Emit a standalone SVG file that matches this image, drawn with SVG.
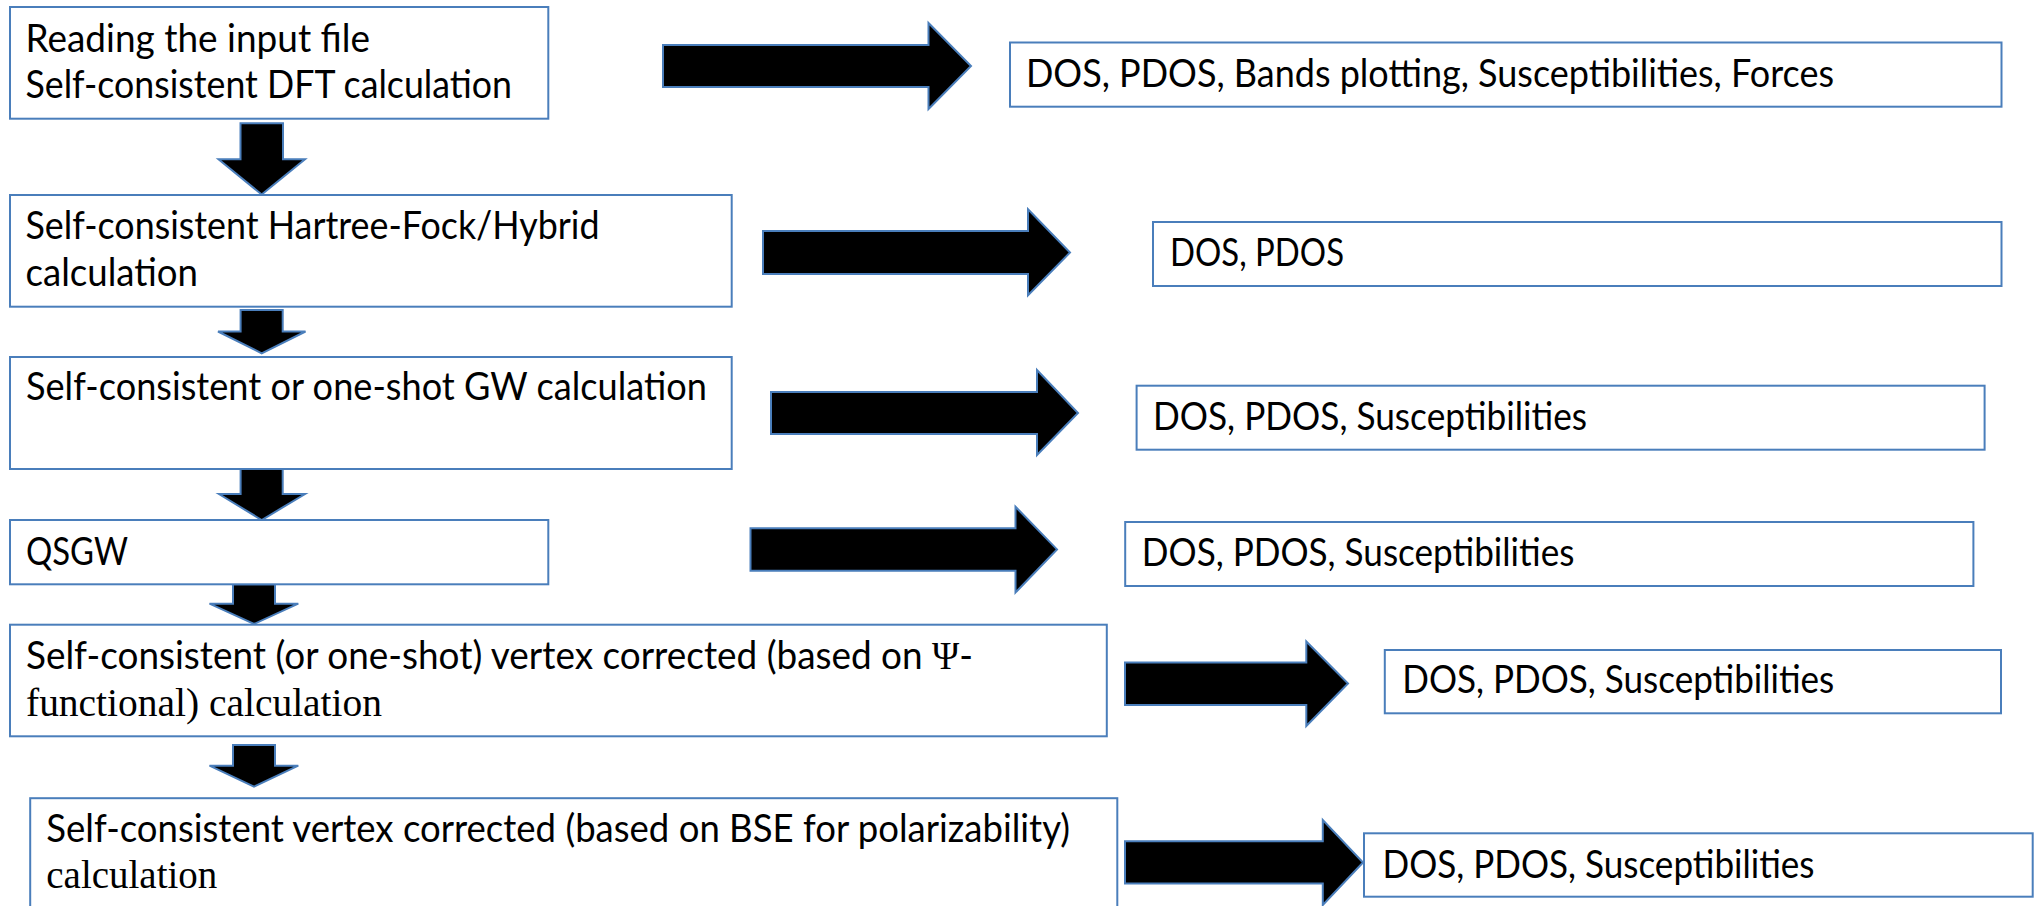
<svg xmlns="http://www.w3.org/2000/svg" width="2034" height="906" viewBox="0 0 2034 906">
<style>
.box{fill:#fff;stroke:#4a7ebb;stroke-width:2}
.arr{fill:#000;stroke:#4a7ebb;stroke-width:2;stroke-linejoin:miter}
.t{font-family:Lato,"Liberation Sans",sans-serif;font-size:39px;fill:#000}
.s{font-family:"Liberation Serif","Times New Roman",serif;font-size:39.4px;fill:#000}
</style>
<rect width="2034" height="906" fill="#fff"/>
<g id="connectors">
<polygon class="arr" points="663,45 928.5,45 928.5,23 971,66 928.5,109 928.5,87 663,87"/>
<polygon class="arr" points="763,231 1028,231 1028,209.3 1070,252.5 1028,295.3 1028,274 763,274"/>
<polygon class="arr" points="771,392 1037,392 1037,370 1078,413 1037,455 1037,434 771,434"/>
<polygon class="arr" points="750.5,528.3 1015.5,528.3 1015.5,506.7 1057,549.4 1015.5,592.5 1015.5,570.7 750.5,570.7"/>
<polygon class="arr" points="1125,662.5 1306.3,662.5 1306.3,641.5 1348,683.5 1306.3,726 1306.3,705 1125,705"/>
<polygon class="arr" points="1125,841.3 1322.8,841.3 1322.8,820 1363,862.5 1322.8,905 1322.8,883.5 1125,883.5"/>
<polygon class="arr" points="240.5,123.3 283,123.3 283,159.3 305,159.3 261.7,194.5 218.5,159.3 240.5,159.3"/>
<polygon class="arr" points="240.6,310 282.7,310 282.7,331.5 305.5,331.5 261.7,353.3 218,331.5 240.6,331.5"/>
<polygon class="arr" points="240.6,469 282.7,469 282.7,494 305,494 261.7,520 219,494 240.6,494"/>
<polygon class="arr" points="233,584.3 275,584.3 275,603.7 298.3,603.7 254,624 209.5,603.7 233,603.7"/>
<polygon class="arr" points="233,745 275,745 275,765.7 298.3,765.7 254,786.7 209.5,765.7 233,765.7"/>
</g>
<g id="n1">
<rect class="box" x="10" y="7" width="538.3" height="111.7"/>
<text class="t" x="25.5" y="51.7" textLength="344.5" lengthAdjust="spacingAndGlyphs">Reading the input file</text>
<text class="t" x="25.5" y="98.3" textLength="486.5" lengthAdjust="spacingAndGlyphs">Self-consistent DFT calculation</text>
</g>
<g id="n2">
<rect class="box" x="10" y="195" width="721.7" height="111.7"/>
<text class="t" x="25.5" y="239" textLength="574" lengthAdjust="spacingAndGlyphs">Self-consistent Hartree-Fock/Hybrid</text>
<text class="t" x="25.5" y="286" textLength="172.5" lengthAdjust="spacingAndGlyphs">calculation</text>
</g>
<g id="n3">
<rect class="box" x="10" y="357" width="721.7" height="112"/>
<text class="t" x="26" y="400" textLength="681" lengthAdjust="spacingAndGlyphs">Self-consistent or one-shot GW calculation</text>
</g>
<g id="n4">
<rect class="box" x="10" y="520" width="538.3" height="64.3"/>
<text class="t" x="26" y="565" textLength="102" lengthAdjust="spacingAndGlyphs">QSGW</text>
</g>
<g id="n5">
<rect class="box" x="10" y="624.7" width="1096.8" height="111.6"/>
<text class="t" x="26" y="669" textLength="947" lengthAdjust="spacingAndGlyphs">Self-consistent (or one-shot) vertex corrected (based on <tspan font-family="Liberation Serif, serif">Ψ</tspan>-</text>
<text class="s" x="26" y="715.5" textLength="356" lengthAdjust="spacingAndGlyphs">functional) calculation</text>
</g>
<g id="n6">
<rect class="box" x="30.2" y="798.2" width="1087.1" height="120"/>
<text class="t" x="46.3" y="842.3" textLength="1023.7" lengthAdjust="spacingAndGlyphs">Self-consistent vertex corrected (based on BSE for polarizability)</text>
<text class="s" x="46.3" y="888.3" textLength="171" lengthAdjust="spacingAndGlyphs">calculation</text>
</g>
<g id="r1">
<rect class="box" x="1010" y="42.5" width="991.5" height="64.2"/>
<text class="t" x="1026" y="86.7" textLength="808" lengthAdjust="spacingAndGlyphs">DOS, PDOS, Bands plotting, Susceptibilities, Forces</text>
</g>
<g id="r2">
<rect class="box" x="1153" y="222" width="848.5" height="64"/>
<text class="t" x="1170" y="265.7" textLength="174" lengthAdjust="spacingAndGlyphs">DOS, PDOS</text>
</g>
<g id="r3">
<rect class="box" x="1136.6" y="385.7" width="848" height="64"/>
<text class="t" x="1153" y="430" textLength="434" lengthAdjust="spacingAndGlyphs">DOS, PDOS, Susceptibilities</text>
</g>
<g id="r4">
<rect class="box" x="1125.2" y="522" width="848.2" height="64"/>
<text class="t" x="1141.8" y="565.7" textLength="432.6" lengthAdjust="spacingAndGlyphs">DOS, PDOS, Susceptibilities</text>
</g>
<g id="r5">
<rect class="box" x="1384.8" y="650" width="616.2" height="63.3"/>
<text class="t" x="1402.3" y="693.3" textLength="432" lengthAdjust="spacingAndGlyphs">DOS, PDOS, Susceptibilities</text>
</g>
<g id="r6">
<rect class="box" x="1364" y="833.3" width="668.7" height="63.4"/>
<text class="t" x="1382.5" y="877.5" textLength="432" lengthAdjust="spacingAndGlyphs">DOS, PDOS, Susceptibilities</text>
</g>
</svg>
